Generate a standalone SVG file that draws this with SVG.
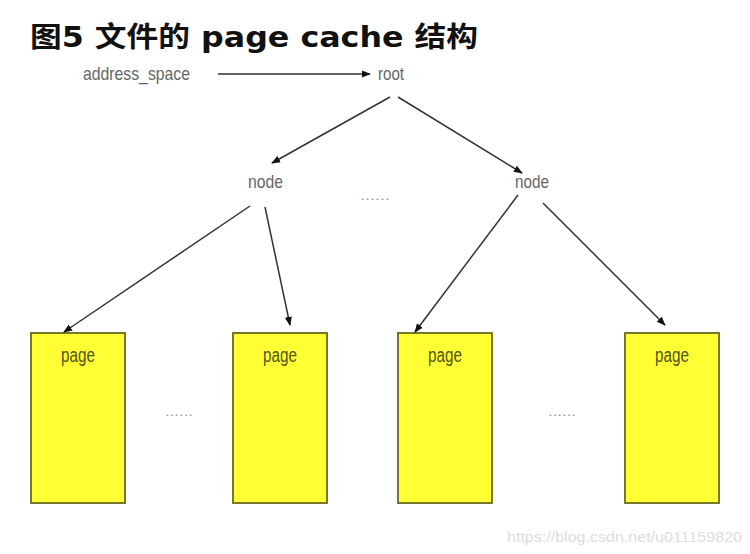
<svg xmlns="http://www.w3.org/2000/svg" width="750" height="554" viewBox="0 0 750 554">
<style>
.lbl{font-family:"Liberation Sans",Arial,sans-serif;font-size:19px;fill:#666;}
.pg{font-family:"Liberation Sans",Arial,sans-serif;font-size:20px;fill:#55551a;}
.box{fill:#ffff33;stroke:#77772a;stroke-width:2;}
.con{stroke:#333;stroke-width:1.5;fill:none;marker-end:url(#ah);}
.dots{font-family:"Liberation Sans",Arial,sans-serif;font-size:12px;fill:#999;}
</style>
<defs>
<marker id="ah" viewBox="0 0 10 10" refX="9" refY="5" markerWidth="9" markerHeight="9" markerUnits="userSpaceOnUse" orient="auto">
<path d="M0,1 L10,5 L0,9 z" fill="#111"/>
</marker>
</defs>
<rect width="750" height="554" fill="#fff"/>
<text x="30" y="47" font-family="'DejaVu Sans','Noto Sans CJK SC',sans-serif" font-weight="bold" font-size="28" fill="#111" textLength="448" lengthAdjust="spacingAndGlyphs">图5 文件的 page cache 结构</text>
<g id="address_space"><text class="lbl" x="83" y="80" textLength="107" lengthAdjust="spacingAndGlyphs">address_space</text></g>
<g id="root"><text class="lbl" x="378" y="80" textLength="26" lengthAdjust="spacingAndGlyphs">root</text></g>
<g id="node1"><text class="lbl" x="248" y="188" textLength="35" lengthAdjust="spacingAndGlyphs">node</text></g>
<g id="node2"><text class="lbl" x="515" y="188" textLength="34" lengthAdjust="spacingAndGlyphs">node</text></g>
<text class="dots" x="360" y="200" textLength="30" lengthAdjust="spacingAndGlyphs">......</text>
<g id="page1"><rect class="box" x="31" y="333" width="94" height="170"/><text class="pg" x="61" y="362" textLength="34" lengthAdjust="spacingAndGlyphs">page</text></g>
<g id="page2"><rect class="box" x="233" y="333" width="94" height="170"/><text class="pg" x="263" y="362" textLength="34" lengthAdjust="spacingAndGlyphs">page</text></g>
<g id="page3"><rect class="box" x="398" y="333" width="94" height="170"/><text class="pg" x="428" y="362" textLength="34" lengthAdjust="spacingAndGlyphs">page</text></g>
<g id="page4"><rect class="box" x="625" y="333" width="94" height="170"/><text class="pg" x="655" y="362" textLength="34" lengthAdjust="spacingAndGlyphs">page</text></g>
<text class="dots" x="165" y="416" textLength="28" lengthAdjust="spacingAndGlyphs">......</text>
<text class="dots" x="548" y="416" textLength="28" lengthAdjust="spacingAndGlyphs">......</text>
<g id="connectors">
<line class="con" x1="218" y1="74" x2="370" y2="74"/>
<line class="con" x1="390" y1="97" x2="272" y2="163"/>
<line class="con" x1="398" y1="97" x2="522" y2="173"/>
<line class="con" x1="250" y1="206" x2="64" y2="332"/>
<line class="con" x1="265" y1="207" x2="290" y2="325"/>
<line class="con" x1="518" y1="195" x2="415" y2="332"/>
<line class="con" x1="543" y1="203" x2="665" y2="325"/>
</g>
<text x="507" y="542" font-family="'Liberation Sans',Arial,sans-serif" font-size="15" fill="#ddd" textLength="235" lengthAdjust="spacingAndGlyphs">https://blog.csdn.net/u011159820</text>
</svg>
